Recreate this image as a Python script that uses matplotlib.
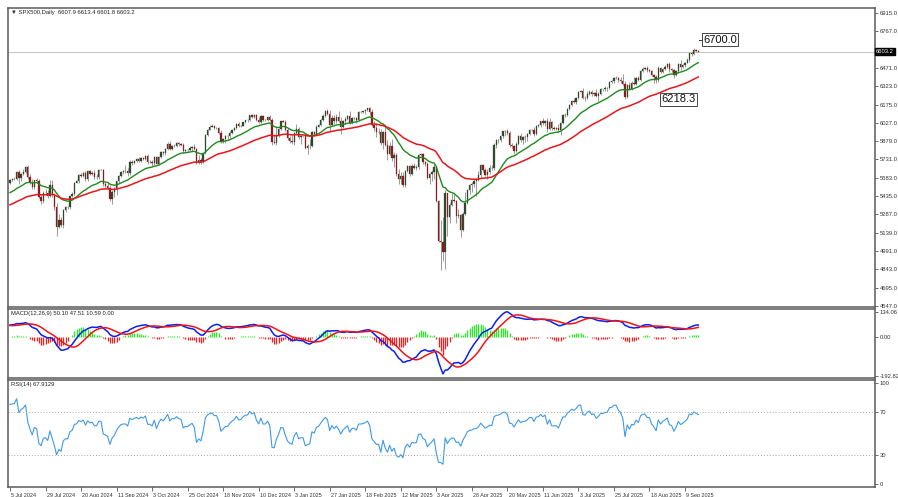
import numpy as np
import pandas as pd
import matplotlib
matplotlib.use("Agg")
import matplotlib.pyplot as plt
import matplotlib.transforms as mtrans

plt.rcParams["font.family"] = ["Liberation Sans", "DejaVu Sans"]

# ---------------- data ----------------
warmup_closes = [5149, 5179, 5225, 5241, 5234, 5218, 5203, 5248, 5254,
                 5243, 5205, 5211, 5147, 5204, 5202, 5209, 5161, 5199, 5123, 5061, 5051, 5022, 5011, 4967,
                 5010, 5070, 5072, 5048, 5100, 5116, 5036,
                 5018, 5064, 5128, 5181, 5187, 5188, 5214, 5223, 5221, 5247, 5308, 5297, 5303, 5308, 5321,
                 5307, 5268, 5305, 5305, 5306, 5267, 5236, 5278,
                 5283, 5291, 5354, 5352, 5347, 5361, 5375, 5421, 5434, 5431, 5473, 5487, 5487, 5473, 5464,
                 5448, 5469, 5477, 5482, 5460,
                 5475, 5509, 5537, 5537]
first_open = 5537.0

closes = (
    [5567, 5572, 5577, 5633, 5585, 5615, 5631, 5667, 5589, 5545, 5505, 5564, 5555, 5427, 5399, 5459, 5464, 5436, 5522] +
    [5446, 5347, 5186, 5240, 5199, 5319, 5344, 5344, 5434, 5455, 5543, 5554, 5608, 5597, 5621, 5571, 5635, 5616, 5625, 5592, 5592, 5648] +
    [5648, 5529, 5520, 5503, 5408, 5471, 5496, 5554, 5596, 5626, 5634, 5635, 5618, 5714, 5703, 5719, 5732, 5722, 5745, 5738, 5762] +
    [5709, 5710, 5699, 5751, 5696, 5751, 5792, 5780, 5815, 5859, 5815, 5843, 5841, 5865, 5853, 5851, 5797, 5809, 5808, 5823, 5833, 5813, 5705] +
    [5729, 5712, 5782, 5929, 5973, 5996, 6001, 5984, 5985, 5949, 5871, 5894, 5917, 5917, 5949, 5970, 5987, 6021, 5999, 6005, 6032] +
    [6047, 6050, 6087, 6075, 6090, 6053, 6034, 6084, 6051, 6051, 6074, 6050, 5872, 5867, 5931, 5975, 6040, 6037, 5971, 5907, 5882] +
    [5869, 5942, 5975, 5909, 5918, 5918, 5827, 5837, 5843, 5950, 5937, 5997, 6010, 6049, 6086, 6119, 6101, 6012, 6068, 6039, 6071, 6041] +
    [5995, 6038, 6061, 6084, 6026, 6066, 6068, 6052, 6115, 6115, 6120, 6129, 6144, 6117, 6013, 5983, 5955, 5956, 5861, 5955] +
    [5850, 5778, 5843, 5739, 5770, 5615, 5573, 5599, 5522, 5639, 5675, 5615, 5676, 5663, 5668, 5768, 5777, 5712, 5693, 5581, 5612] +
    [5633, 5671, 5397, 5074, 5062, 4982, 5457, 5268, 5363, 5406, 5397, 5276, 5283, 5158, 5288, 5376, 5485, 5525, 5529, 5561, 5569] +
    [5604, 5687, 5650, 5607, 5631, 5664, 5660, 5844, 5886, 5892, 5917, 5958, 5964, 5941, 5845, 5842, 5802, 5860, 5922, 5889, 5912, 5912] +
    [5936, 5970, 5971, 5939, 6000, 6006, 6038, 6022, 6045, 5977, 6033, 5982, 5981, 5985, 5967, 6025, 6092, 6092, 6141, 6173, 6205] +
    [6198, 6227, 6279, 6285, 6230, 6226, 6263, 6280, 6260, 6269, 6244, 6264, 6297, 6297, 6306, 6309, 6359, 6363, 6389, 6390, 6371, 6362, 6339] +
    [6238, 6330, 6299, 6345, 6340, 6389, 6374, 6446, 6466, 6469, 6450, 6449, 6412, 6396, 6370, 6467, 6439, 6466, 6481, 6502, 6460] +
    [6455, 6416, 6448, 6502, 6482, 6495, 6512, 6532, 6588, 6584, 6615, 6607.9, 6603.2]
)

high_ext = (
    [8, 12, 12, 5, 10, 8, 25, 8, 20, 25, 30, 5, 15, 15, 20, 20, 30, 20, 40] +
    [40, 15, 30, 50, 30, 10, 12, 10, 5, 10, 8, 10, 5, 15, 8, 20, 10, 15, 10, 20, 20, 5] +
    [5, 5, 20, 30, 20, 10, 10, 5, 8, 10, 10, 50, 30, 10, 10, 10, 10, 20, 10, 10, 5] +
    [15, 15, 20, 10, 10, 5, 5, 10, 5, 10, 20, 5, 15, 5, 10, 10, 15, 10, 10, 20, 10, 20, 10] +
    [35, 15, 5, 10, 5, 10, 15, 10, 10, 10, 20, 10, 10, 10, 10, 10, 10, 5, 10, 3, 5] +
    [5, 5, 5, 10, 10, 10, 20, 5, 10, 10, 10, 15, 20, 60, 60, 10, 5, 10, 15, 15, 15] +
    [45, 10, 40, 20, 10, 5, 25, 20, 50, 10, 10, 10, 5, 10, 10, 10, 20, 30, 20, 20, 30, 50] +
    [30, 10, 10, 10, 40, 10, 10, 10, 10, 10, 5, 10, 5, 10, 20, 30, 40, 30, 20, 10] +
    [60, 40, 30, 50, 20, 10, 40, 30, 30, 10, 10, 10, 20, 30, 20, 10, 10, 10, 10, 20, 10] +
    [15, 24, 10, 10, 172, 205, 24, 5, 18, 53, 44, 5, 45, 5, 21, 93, 5, 5, 24, 10, 12] +
    [30, 10, 10, 10, 20, 20, 20, 20, 10, 5, 5, 5, 5, 15, 20, 20, 10, 10, 10, 20, 10, 15] +
    [10, 10, 10, 20, 10, 15, 5, 30, 5, 20, 30, 10, 20, 10, 30, 10, 10, 15, 5, 10, 10] +
    [20, 5, 5, 5, 20, 15, 20, 10, 10, 10, 30, 15, 10, 5, 20, 10, 10, 10, 5, 15, 10, 25, 60] +
    [30, 10, 30, 20, 50, 10, 20, 10, 10, 10, 20, 10, 5, 10, 20, 20, 10, 5, 10, 5, 15] +
    [10, 10, 10, 5, 30, 10, 10, 20, 5, 10, 15, 12, 5.5]
)

low_ext = (
    [5, 10, 8, 10, 50, 30, 10, 12, 15, 10, 15, 10, 10, 10, 25, 20, 15, 15, 10] +
    [20, 25, 70, 10, 15, 20, 15, 10, 10, 10, 10, 5, 10, 10, 10, 10, 10, 10, 10, 15, 15, 20] +
    [3, 10, 10, 10, 10, 40, 40, 50, 10, 10, 10, 10, 20, 10, 15, 10, 10, 10, 10, 10, 15] +
    [15, 10, 20, 10, 5, 10, 10, 10, 15, 5, 5, 10, 10, 10, 10, 15, 10, 10, 10, 5, 20, 5, 10] +
    [10, 20, 10, 10, 10, 5, 5, 10, 10, 10, 10, 10, 30, 25, 10, 10, 10, 10, 5, 3, 5] +
    [10, 10, 10, 10, 10, 10, 10, 10, 10, 10, 10, 10, 20, 10, 15, 20, 5, 5, 10, 15, 15] +
    [10, 20, 10, 10, 50, 5, 10, 50, 20, 10, 10, 10, 5, 10, 10, 10, 10, 60, 10, 20, 10, 10] +
    [60, 10, 20, 10, 10, 10, 20, 30, 10, 10, 5, 20, 10, 30, 10, 20, 40, 20, 10, 45] +
    [10, 50, 10, 20, 70, 20, 40, 40, 10, 10, 10, 20, 10, 10, 20, 10, 10, 20, 15, 10, 50] +
    [54, 62, 10, 10, 227, 72, 133, 153, 48, 5, 11, 56, 21, 57, 5, 5, 5, 30, 57, 24, 127] +
    [10, 20, 20, 10, 30, 20, 10, 10, 20, 20, 20, 15, 40, 10, 10, 20, 30, 10, 10, 20, 30, 40] +
    [30, 10, 10, 20, 10, 10, 10, 10, 20, 20, 10, 10, 10, 10, 10, 40, 10, 15, 10, 10, 10] +
    [10, 20, 10, 5, 10, 20, 10, 10, 20, 20, 5, 40, 10, 10, 10, 20, 10, 10, 10, 10, 10, 10, 10] +
    [20, 10, 10, 10, 10, 10, 10, 10, 10, 10, 10, 10, 10, 50, 20, 10, 10, 10, 10, 10, 20] +
    [20, 30, 10, 20, 30, 10, 20, 5, 10, 20, 10, 10, 1.4]
)

excluded_days = ["2024-12-25", "2025-01-01", "2025-04-18"]
main_ticks = [6915.0, 6767.0, 6471.0, 6323.0, 6175.0, 6027.0, 5879.0, 5731.0, 5583.0,
              5435.0, 5287.0, 5139.0, 4991.0, 4843.0, 4695.0, 4547.0]
current_price = 6603.2
level_hi = 6700.0
level_lo = 6218.3
title_main = "\u25bc SPX500,Daily  6607.9 6613.4 6601.8 6603.2"
title_macd = "MACD(12,26,9) 50.10 47.51 10.59 0.00"
title_rsi = "RSI(14) 67.9129"
macd_lim = (-192.82, 134.06)

# ---------------- derived ----------------
dates = pd.bdate_range("2024-07-05", "2025-09-17")
dates = dates[~dates.isin(pd.to_datetime(excluded_days))]
n = len(closes)
assert len(dates) == n, (len(dates), n)
assert len(high_ext) == n and len(low_ext) == n, (len(high_ext), len(low_ext), n)

c = np.array(closes, dtype=float)
o = np.concatenate([[first_open], c[:-1]])
hi = np.maximum(o, c) + np.array(high_ext, dtype=float)
lo = np.minimum(o, c) - np.array(low_ext, dtype=float)

full = pd.Series(list(map(float, warmup_closes)) + list(c))
w = len(warmup_closes)
ema20 = full.ewm(span=20, adjust=False).mean().values[w:]
ema50 = full.ewm(span=50, adjust=False).mean().values[w:]
macd = (full.ewm(span=12, adjust=False).mean() - full.ewm(span=26, adjust=False).mean())
signal = macd.rolling(9, min_periods=1).mean()
hist = (macd - signal).values[w:]
macd_v = macd.values[w:]
sig_v = signal.values[w:]
d = full.diff()
gain = d.clip(lower=0).ewm(alpha=1 / 14, adjust=False).mean()
loss = (-d.clip(upper=0)).ewm(alpha=1 / 14, adjust=False).mean()
rsi = (100 - 100 / (1 + gain / loss)).values[w:]

x = np.arange(n)

# ---------------- figure ----------------
W, H = 898, 497
fig = plt.figure(figsize=(W / 100, H / 100), dpi=100)
fig.patch.set_facecolor("white")

L = 8 / W
AW = 867 / W
ax = fig.add_axes([L, (H - 307) / H, AW, 299 / H])
axm = fig.add_axes([L, (H - 378) / H, AW, 69 / H], sharex=ax)
axr = fig.add_axes([L, (H - 487) / H, AW, 107 / H], sharex=ax)

TICK_FS = 4.2
for a in (ax, axm, axr):
    for s in a.spines.values():
        s.set_color("#5a5a5a")
        s.set_linewidth(1.1)
    a.yaxis.tick_right()
    a.tick_params(axis="y", length=2.5, width=0.6, color="#555555", labelsize=TICK_FS,
                  labelcolor="#333333", pad=0.8)
    a.set_facecolor("white")

ax.set_xlim(-0.9, 389.6)

# candles
up = c >= o
ax.vlines(x, lo, hi, color="#8a8a8a", linewidth=0.6, zorder=2)
body_lo = np.minimum(o, c)
body_h = np.maximum(np.abs(c - o), 0.8)
ax.bar(x[up], body_h[up], bottom=body_lo[up], width=0.6, color="#2d4a2d",
       edgecolor="#2d4a2d", linewidth=0.2, zorder=3)
ax.bar(x[~up], body_h[~up], bottom=body_lo[~up], width=0.6, color="#8b1c1c",
       edgecolor="#8b1c1c", linewidth=0.2, zorder=3)

ax.plot(x, ema20, color="#1f8a1f", linewidth=1.0, zorder=4)
ax.plot(x, ema50, color="#e8161b", linewidth=1.1, zorder=4)

ax.axhline(current_price, color="#c8c8c8", linewidth=0.8, zorder=1)
ax.set_ylim(4539, 6955)
ax.set_yticks(main_ticks)
ax.set_yticklabels([f"{v:.1f}" for v in main_ticks])
ax.text(1.0012, current_price, f"{current_price:.1f}", transform=ax.get_yaxis_transform(),
        fontsize=TICK_FS, color="white", va="center", ha="left",
        bbox=dict(boxstyle="square,pad=0.15", fc="black", ec="black"))
ax.text(0.004, 0.993, title_main, transform=ax.transAxes, fontsize=4.2, va="top", ha="left",
        color="#222222")

# level labels
ax.plot([x[-1] + 0.5, x[-1] + 2.0], [level_hi, level_hi], color="#333333", linewidth=0.7)
ax.text(x[-1] + 2.3, level_hi, f"{level_hi:.1f}", fontsize=8.0, va="center", ha="left",
        color="#111111", bbox=dict(boxstyle="square,pad=0.12", fc="white", ec="#444444", lw=0.7))
ax.text(x[-1] - 16.8, level_lo, f"{level_lo:.1f}", fontsize=8.0, va="center", ha="left",
        color="#111111", bbox=dict(boxstyle="square,pad=0.12", fc="white", ec="#444444", lw=0.7))

# MACD
cols = np.where(hist >= 0, "#22ee22", "#ff1a1a")
axm.vlines(x, 0, hist, colors=cols, linewidth=0.9)
axm.plot(x, macd_v, color="#0b1ff0", linewidth=1.1)
axm.plot(x, sig_v, color="#f01414", linewidth=1.1)
axm.set_ylim(*macd_lim)
axm.set_yticks([macd_lim[1] - 12, 0, macd_lim[0] + 8])
axm.set_yticklabels([f"{macd_lim[1]:.2f}", "0.00", f"{macd_lim[0]:.2f}"])
axm.text(0.004, 0.97, title_macd, transform=axm.transAxes, fontsize=4.2, va="top", ha="left",
         color="#222222")

# RSI
axr.plot(x, rsi, color="#3f9ae8", linewidth=0.8)
for lvl in (70, 30):
    axr.axhline(lvl, color="#a8a8a8", linewidth=0.7, linestyle=(0, (1, 2)))
axr.set_ylim(0, 100)
axr.set_yticks([97, 70, 30, 3])
axr.set_yticklabels(["100", "70", "30", "0"])
axr.text(0.004, 0.985, title_rsi, transform=axr.transAxes, fontsize=4.2, va="top", ha="left",
         color="#222222")

# x labels
tick_idx = list(range(0, n, 16))
tick_lab = [f"{dates[i].day} {dates[i].strftime('%b %Y')}" for i in tick_idx]
for a in (ax, axm):
    a.tick_params(axis="x", bottom=False, labelbottom=False)
axr.set_xticks(tick_idx)
axr.set_xticklabels(tick_lab, ha="left")
axr.tick_params(axis="x", length=3, width=0.6, color="#555555", labelsize=3.9,
                labelcolor="#333333", pad=1)
off = mtrans.ScaledTranslation(1.2 / 100, 0, fig.dpi_scale_trans)
for lab in axr.get_xticklabels():
    lab.set_transform(lab.get_transform() + off)

fig.savefig("out.png", dpi=100, facecolor="white")
